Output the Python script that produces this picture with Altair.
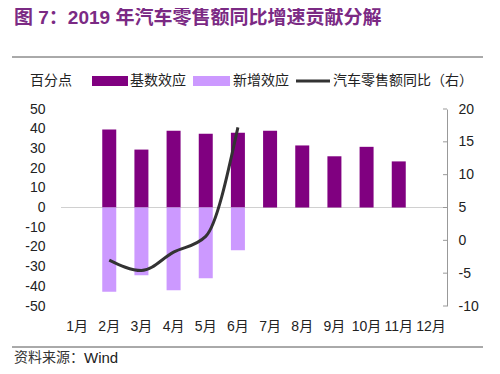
import altair as alt
import pandas as pd

months = ["1月", "2月", "3月", "4月", "5月", "6月", "7月", "8月", "9月", "10月", "11月", "12月"]
base_months = ["2月", "3月", "4月", "5月", "6月", "7月", "8月", "9月", "10月", "11月"]
base_values = [39.6, 29.4, 39.0, 37.5, 38.0, 39.0, 31.5, 26.0, 30.8, 23.4]
new_months = ["2月", "3月", "4月", "5月", "6月"]
new_values = [-42.8, -34.4, -42.0, -35.9, -21.7]
line_months = ["2月", "3月", "4月", "5月", "6月"]
line_values = [-3.0, -4.6, -1.8, 0.6, 17.2]
left_ticks = [50, 40, 30, 20, 10, 0, -10, -20, -30, -40, -50]
right_ticks = [-10, -5, 0, 5, 10, 15, 20]

series = ["基数效应", "新增效应", "汽车零售额同比（右）"]
colors = ["#800080", "#CC99FF", "#333333"]

FONT = "Liberation Sans, Arial, 'Noto Sans CJK SC'"
CJK = "'Noto Sans CJK SC', sans-serif"

bars_df = pd.DataFrame({
    "month": base_months + new_months,
    "series": [series[0]] * len(base_months) + [series[1]] * len(new_months),
    "value": base_values + new_values,
})
line_df = pd.DataFrame({"month": line_months, "value": line_values})
tick_df = pd.DataFrame({"v": right_ticks})
zero_df = pd.DataFrame({"z": [0]})

yl = alt.Scale(domain=[-50, 50], nice=False)
yr = alt.Scale(domain=[-10, 20], nice=False)
xs = alt.Scale(domain=months)

x_axis = alt.Axis(title=None, labelAngle=0, domain=False, ticks=False, grid=False,
                  labelPadding=13, labelFontSize=14, labelColor="#222222",
                  labelFont=FONT)
left_axis = alt.Axis(title=None, values=left_ticks, grid=False, domain=False,
                     ticks=False, labelPadding=16, labelFontSize=14,
                     labelColor="#222222", labelFont=FONT, labelOverlap=False)
right_axis = alt.Axis(title=None, orient="right", values=right_ticks, grid=False,
                      domain=True, domainColor="#999999", ticks=False,
                      labelPadding=11, labelFontSize=14, labelColor="#222222",
                      labelFont=FONT, labelOverlap=False)

bars = alt.Chart(bars_df).mark_bar(size=14).encode(
    x=alt.X("month:N", sort=months, scale=xs, axis=x_axis),
    y=alt.Y("value:Q", stack=None, scale=yl, axis=left_axis),
    color=alt.Color("series:N", scale=alt.Scale(domain=series[:2], range=colors[:2]),
                    legend=None),
)

zero = alt.Chart(zero_df).mark_rule(color="#d0d0d0", strokeWidth=1).encode(
    y=alt.Y("z:Q", scale=yl, axis=left_axis),
    x=alt.value(0), x2=alt.value(386),
)

left = alt.layer(zero, bars)

line = alt.Chart(line_df).mark_line(color="#333333", strokeWidth=3,
                                    interpolate="monotone").encode(
    x=alt.X("month:N", sort=months, scale=xs, axis=x_axis),
    y=alt.Y("value:Q", scale=yr, axis=right_axis),
)
rticks = alt.Chart(tick_df).mark_rule(color="#999999", strokeWidth=1).encode(
    y=alt.Y("v:Q", scale=yr, axis=right_axis),
    x=alt.value(382), x2=alt.value(386),
)
right = alt.layer(rticks, line)

main = alt.layer(left, right).resolve_scale(y="independent")

def text(t, x, y, size=14, color="#222222", weight="normal", font=CJK):
    return alt.Chart(pd.DataFrame({"t": [t]})).mark_text(
        align="left", baseline="middle", fontSize=size, color=color,
        fontWeight=weight, font=font).encode(text="t:N", x=alt.value(x), y=alt.value(y))

def rect(x, x2, y, y2, color):
    return alt.Chart(pd.DataFrame({"a": [0]})).mark_rect(color=color).encode(
        x=alt.value(x), x2=alt.value(x2), y=alt.value(y), y2=alt.value(y2))

def hline(x, x2, y, color, w):
    return alt.Chart(pd.DataFrame({"a": [0]})).mark_rule(color=color, strokeWidth=w).encode(
        x=alt.value(x), x2=alt.value(x2), y=alt.value(y))

deco = alt.layer(
    text("图 7：2019 年汽车零售额同比增速贡献分解", -47, -91, size=19,
         color="#7B2A84", weight="bold", font=FONT),
    hline(-49, 422, -52, "#555555", 1),
    text("百分点", -31, -28),
    rect(31, 67, -33, -23, colors[0]),
    text(series[0], 69, -28),
    rect(132, 169, -33, -23, colors[1]),
    text(series[1], 172, -28),
    hline(235, 269, -28, colors[2], 3),
    text(series[2], 272, -28),
    hline(-49, 422, 238, "#555555", 1),
    text("资料来源：", -47, 249, size=14, color="#333333"),
    text("Wind", 23, 249, size=15, color="#222222", font=FONT),
)

chart = alt.layer(main, deco).properties(
    width=386, height=197,
    padding={"left": 53, "top": 101, "right": 45, "bottom": 60},
    autosize="none",
    view=alt.ViewBackground(stroke="transparent", strokeWidth=0),
).configure_view(strokeWidth=0, stroke="transparent"
).configure_axis(grid=False).configure(background="white")

chart.save("out.html", embed_options={
    "renderer": "svg", "actions": False,
    "formatLocale": {"decimal": ".", "thousands": ",", "grouping": [3],
                     "currency": ["$", ""], "minus": "-"},
})
